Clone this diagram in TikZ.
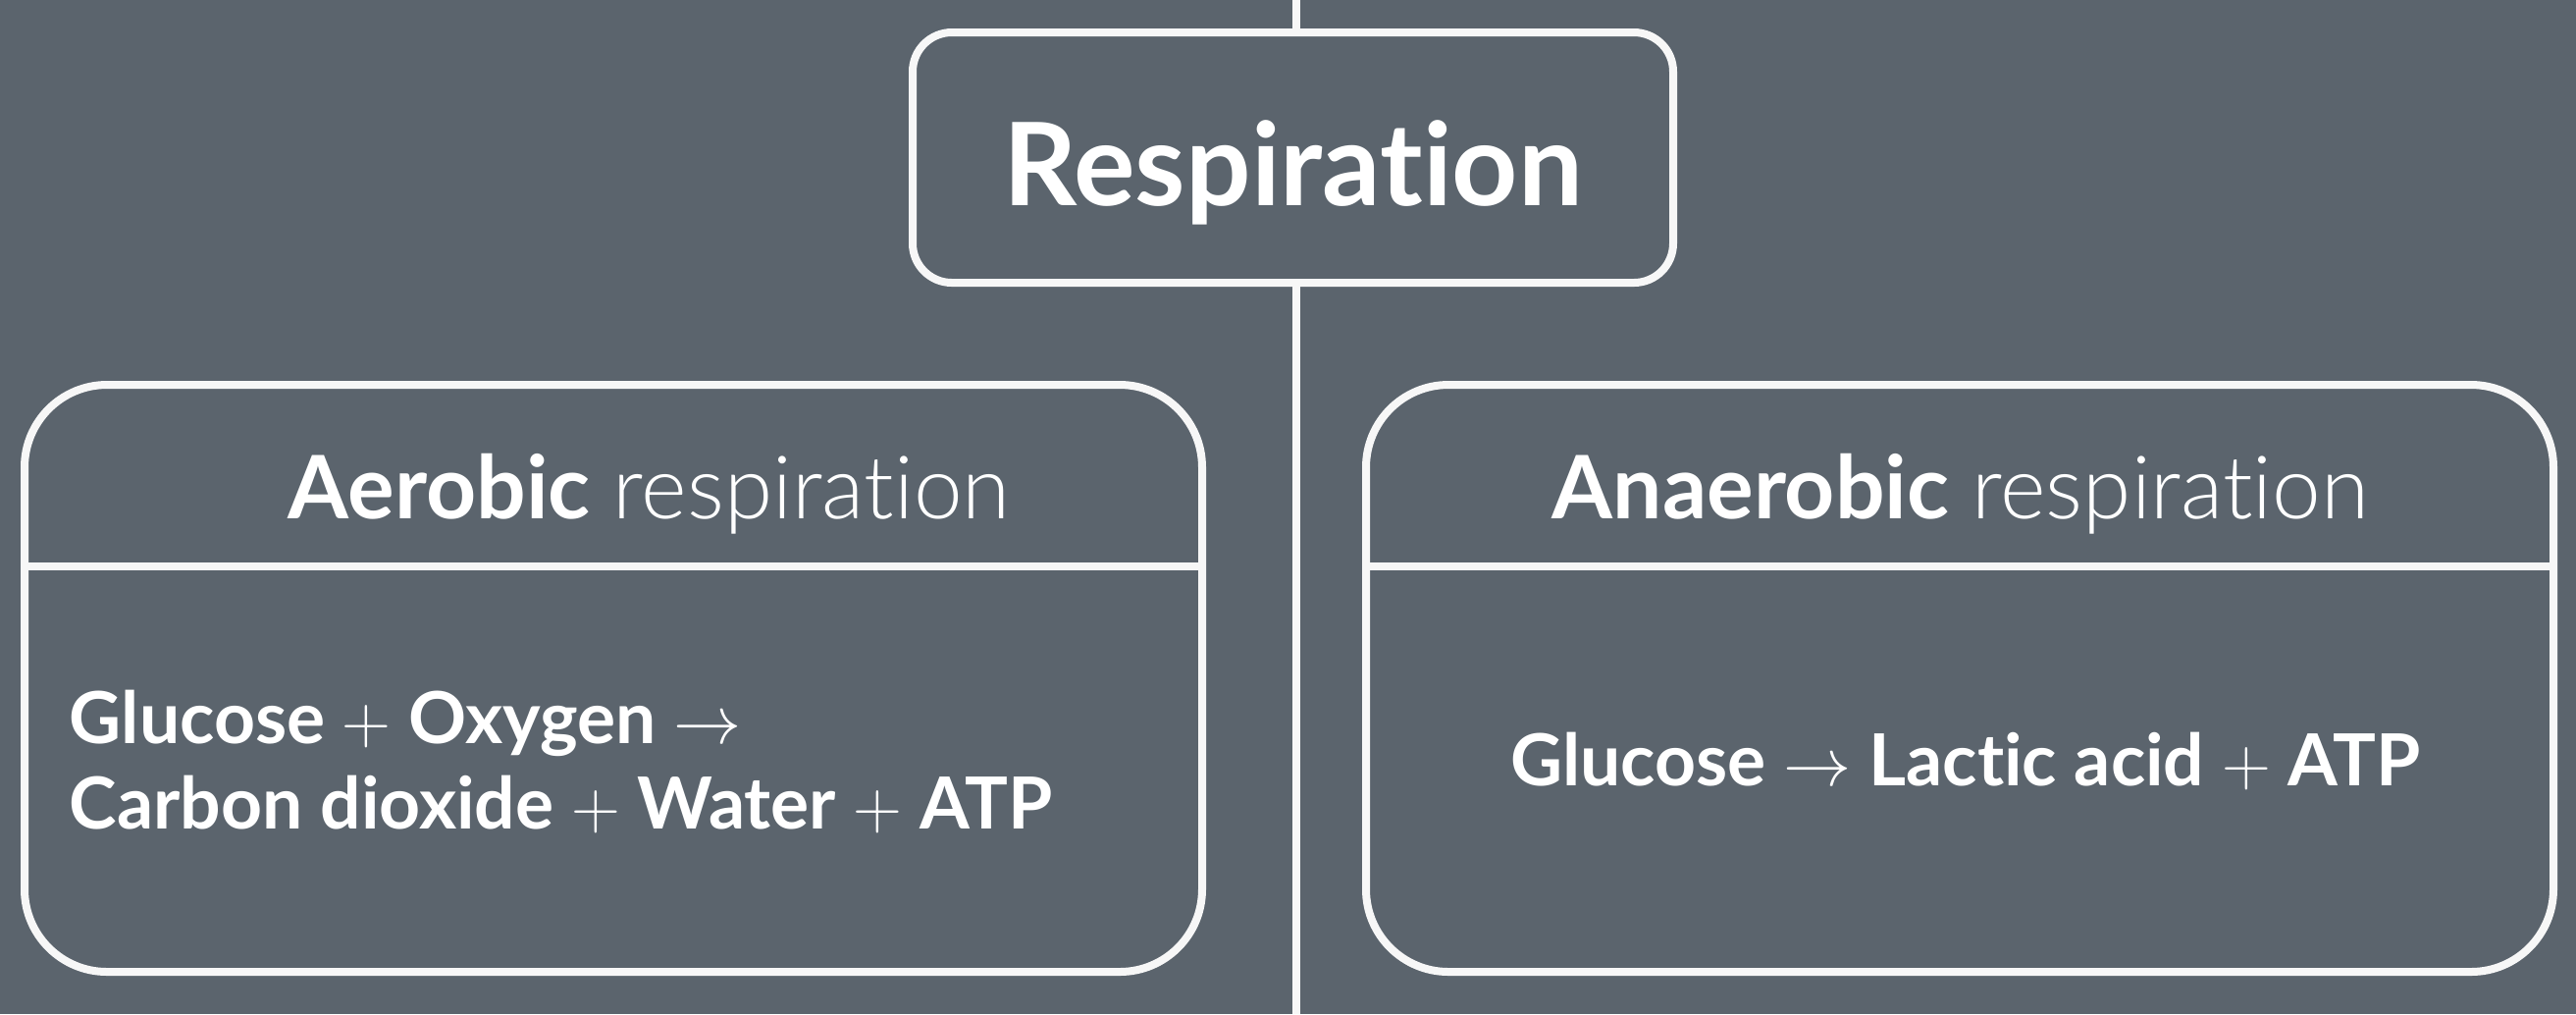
\documentclass[tikz,border=0pt]{standalone}
\usepackage{fontspec}
\setmainfont{Lato}[Ligatures=NoCommon]
\newfontfamily\lightfont{Lato Light}[Ligatures=NoCommon]
\definecolor{bg}{HTML}{5B646D}
\definecolor{wl}{HTML}{F7F7F7}
\tikzset{
  wline/.style={draw=wl, line width=2pt},
  respbox/.style={draw=wl, fill=bg, line width=2pt, rounded corners=10pt, minimum width=193.75pt, minimum height=63.75pt, inner sep=0pt},
  catbox/.style={draw=wl, fill=bg, line width=2pt, rounded corners=21pt, minimum height=149.5pt, inner sep=0pt},
  txt/.style={text=white, inner sep=0pt},
  bigfont/.style={font=\fontsize{29.3}{35}\selectfont\bfseries},
  headfont/.style={font=\fontsize{22.3}{26}\selectfont},
  eqfont/.style={font=\fontsize{18.3}{22}\selectfont\bfseries}
}
\begin{document}
\begin{tikzpicture}[x=0.25pt,y=-0.25pt]
\fill[bg] (0,0) rectangle (2625,1033);
\useasboundingbox (0,0) rectangle (2625,1033);
\coordinate (top) at (1321,0);
\coordinate (bot) at (1321,1033);
\coordinate (dl) at (0,577);
% central spine
\draw[wline] (top) -- (bot);
% top box
\node[respbox] (resp) at (1317.5,160.5) {};
\node[txt, bigfont, anchor=base] (resptxt) at (1318,209) {Respiration};
% left box
\node[catbox, minimum width=300pt] (aer) at (625,691) {};
\draw[wline] (aer.west |- dl) -- (aer.east |- dl);
\node[txt, headfont, anchor=base west] (aert) at (293,528) {\textbf{Aerobic} {\lightfont respiration}};
\node[txt, eqfont, anchor=base west] (aer1) at (70,757) {Glucose {\mdseries$+$} Oxygen {\mdseries$\rightarrow$}};
\node[txt, eqfont, anchor=base west] (aer2) at (70,844) {Carbon dioxide {\mdseries$+$} Water {\mdseries$+$} ATP};
% right box
\node[catbox, minimum width=302.5pt] (ana) at (1997,691) {};
\draw[wline] (ana.west |- dl) -- (ana.east |- dl);
\node[txt, headfont, anchor=base] (anat) at (1998,528) {\textbf{Anaerobic} {\lightfont respiration}};
\node[txt, eqfont, anchor=base] (ana1) at (2003,800) {Glucose {\mdseries$\rightarrow$} Lactic acid {\mdseries$+$} ATP};
\end{tikzpicture}
\end{document}
